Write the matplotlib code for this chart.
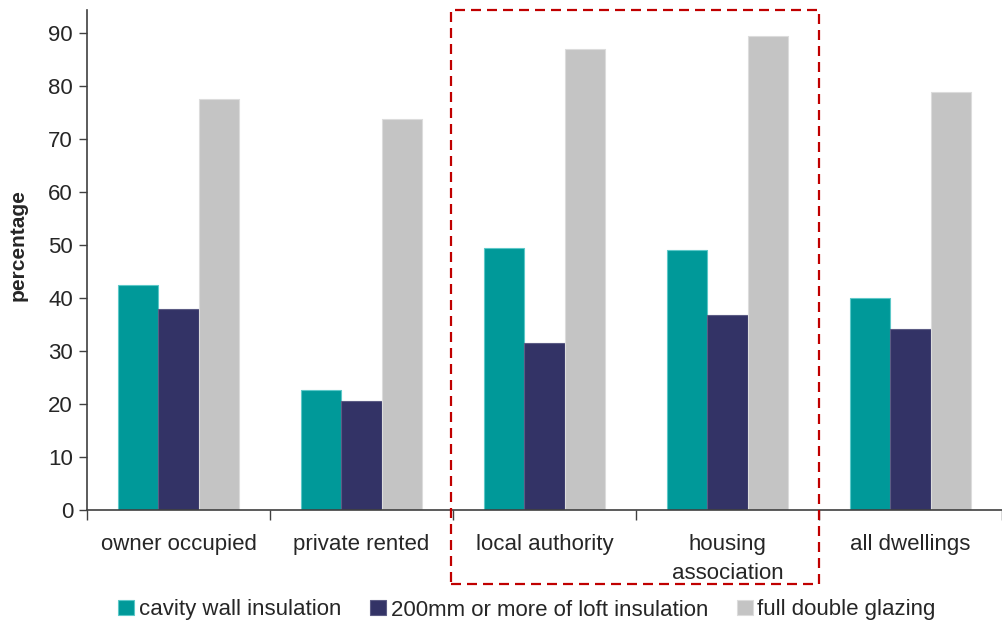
import numpy as np
import matplotlib.pyplot as plt
from matplotlib.patches import Rectangle
from matplotlib.transforms import blended_transform_factory

plt.rcParams['font.family'] = ['Liberation Sans', 'DejaVu Sans']

categories = ['owner occupied', 'private rented', 'local authority',
              'housing\nassociation', 'all dwellings']
series = ['cavity wall insulation', '200mm or more of loft insulation',
          'full double glazing']
cavity = [42.5, 22.7, 49.5, 49.0, 40.0]
loft = [38.0, 20.5, 31.5, 36.8, 34.2]
glazing = [77.6, 73.7, 86.9, 89.4, 78.8]
colors = ['#009999', '#333366', '#C4C4C4']
edges = ['#5CC8C8', '#5C5C85', '#DCDCDC']

text_col = '#262626'
fig = plt.figure(figsize=(10.02, 6.24), dpi=100)
ax = fig.add_axes([87/1002, 114/624, 915/1002, 500/624])

x = np.arange(len(categories))
w = 0.222
for i, vals in enumerate([cavity, loft, glazing]):
    ax.bar(x + (i - 1) * w, vals, width=w, color=colors[i], edgecolor=edges[i],
           linewidth=0.8, label=series[i], zorder=2)

ax.set_xlim(-0.5, 4.45)
ax.set_ylim(0, 94.3)
ax.set_yticks(np.arange(0, 91, 10))
ax.tick_params(axis='y', length=6, width=1, color='#404040', labelsize=16,
               labelcolor=text_col, pad=4)

# boundary ticks on the category axis, labels sit between them
ax.set_xticks(np.arange(-0.5, 5, 1))
ax.set_xticklabels([])
ax.tick_params(axis='x', which='major', length=7, width=1, color='#404040')
ax.set_xticks(x, minor=True)
ax.set_xticklabels(categories, minor=True, fontsize=16, color=text_col,
                   linespacing=1.55)
ax.tick_params(axis='x', which='minor', length=0, pad=17)

for s in ['top', 'right']:
    ax.spines[s].set_visible(False)
for s in ['left', 'bottom']:
    ax.spines[s].set_color('#404040')
    ax.spines[s].set_linewidth(1.2)

fig.text(18/1002, 0.607, 'percentage', rotation=90, ha='center', va='center',
         fontsize=15, fontweight='bold', color=text_col)

# dashed highlight around the social housing groups
tr = blended_transform_factory(ax.transData, fig.transFigure)
box = Rectangle((1.49, 40/624), 2.01, 574/624, transform=tr, fill=False,
                edgecolor='#C00000', linewidth=1.6, linestyle=(0, (4.5, 2.7)),
                clip_on=False)
fig.add_artist(box)

fig.legend(loc='center', bbox_to_anchor=(527/1002, 1 - 610/624), ncol=3,
           frameon=False, fontsize=16, handlelength=0.72, handleheight=0.68,
           handletextpad=0.2, columnspacing=1.3, labelcolor=text_col,
           borderaxespad=0, borderpad=0)

fig.savefig('out.png', dpi=100)
